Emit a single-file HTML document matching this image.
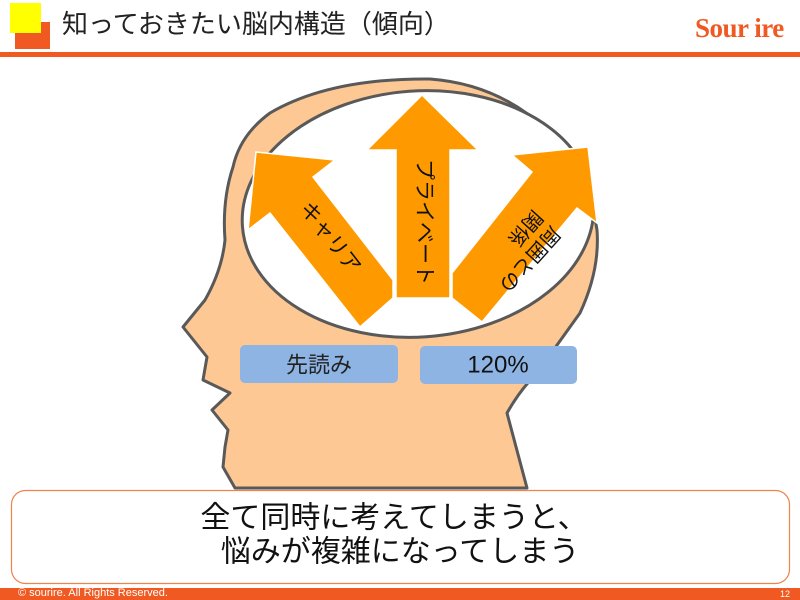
<!DOCTYPE html>
<html><head><meta charset="utf-8"><style>
html,body{margin:0;padding:0;width:800px;height:600px;overflow:hidden;background:#fff}
body{position:relative;font-family:"Liberation Sans","Noto Sans CJK JP",sans-serif}
.a{position:absolute}
</style></head><body>
<div class="a" style="left:15px;top:22px;width:35px;height:27px;background:#f05a22"></div>
<div class="a" style="left:10px;top:3px;width:31px;height:30px;background:#ffff00"></div>
<div class="a" style="left:62px;top:4px;font-size:26px;color:#222;white-space:nowrap">知っておきたい脳内構造（傾向）</div>
<div class="a" style="left:695px;top:13px;font-family:'Liberation Serif',serif;font-weight:bold;font-size:27px;color:#f05a22;letter-spacing:-0.5px">Sour ire</div>
<div class="a" style="left:0;top:52px;width:800px;height:5px;background:#f05a22"></div>

<svg class="a" style="left:0;top:0" width="800" height="600">
<path d="M527,488 L507,413 Q520,390 537,373 L580,313 Q600,270 597,230 Q590,180 563,147 Q510,85 430,79 Q330,78 270,113 Q240,135 233,167 Q222,200 225,240 Q222,270 205,300 L183,327 L207,357 L203,380 L230,393 L212,410 L228,430 L225,447 L223,467 L235,488 Z" fill="#fdc894" stroke="#595959" stroke-width="3" stroke-linejoin="round"/>
<ellipse cx="418" cy="214" rx="176" ry="123" fill="#fff" stroke="#595959" stroke-width="3" transform="rotate(-4 418 214)"/>
<g fill="#ff9900" stroke="#fff" stroke-width="1.5">
<polygon points="256,152 335,160 313,177 393,280 393,298 360,327 270,213 248,230"/>
<polygon points="588,147 597,223 577,208 482,322 452,298 452,273 532,172 512,155"/>
<polygon points="422,95 478,150 450,150 450,298 396,298 396,150 367,150"/>
</g>
<g font-family="Liberation Sans,Noto Sans CJK JP,sans-serif" fill="#111">
<text x="0" y="0" font-size="21" text-anchor="middle" dominant-baseline="central" transform="translate(424,222) rotate(90)">プライベート</text>
<text x="0" y="0" font-size="21" text-anchor="middle" dominant-baseline="central" transform="translate(330,238) rotate(52)">キャリア</text>
<g transform="translate(522,252) rotate(132)">
<text x="0" y="-10" font-size="20" text-anchor="middle" dominant-baseline="central">周囲との</text>
<text x="-20" y="14" font-size="20" text-anchor="middle" dominant-baseline="central">関係</text>
</g>
</g>
<rect x="240" y="345" width="158" height="38" rx="5" fill="#8eb4e3"/>
<rect x="420" y="346" width="157" height="38" rx="5" fill="#8eb4e3"/>
<text x="319" y="365" font-size="22" text-anchor="middle" dominant-baseline="central" fill="#222" font-family="Liberation Sans,Noto Sans CJK JP,sans-serif">先読み</text>
<text x="498" y="365" font-size="24" text-anchor="middle" dominant-baseline="central" fill="#111" font-family="Liberation Sans,sans-serif">120%</text>
<rect x="11.5" y="490.5" width="778" height="93" rx="14" fill="#fff" stroke="#f0824a" stroke-width="1.2"/>
<text x="394" y="518" font-size="30" text-anchor="middle" dominant-baseline="central" fill="#111" font-family="Liberation Sans,Noto Sans CJK JP,sans-serif">全て同時に考えてしまうと、</text>
<text x="400" y="552" font-size="30" text-anchor="middle" dominant-baseline="central" fill="#111" font-family="Liberation Sans,Noto Sans CJK JP,sans-serif">悩みが複雑になってしまう</text>
</svg>
<div class="a" style="left:0;top:588px;width:800px;height:12px;background:#f05a22"></div>
<div class="a" style="left:18px;top:587px;font-size:11px;color:#fff;line-height:13px">© sourire. All Rights Reserved.</div>
<div class="a" style="left:780px;top:588px;font-size:9px;color:#fff;line-height:13px">12</div>
</body></html>
